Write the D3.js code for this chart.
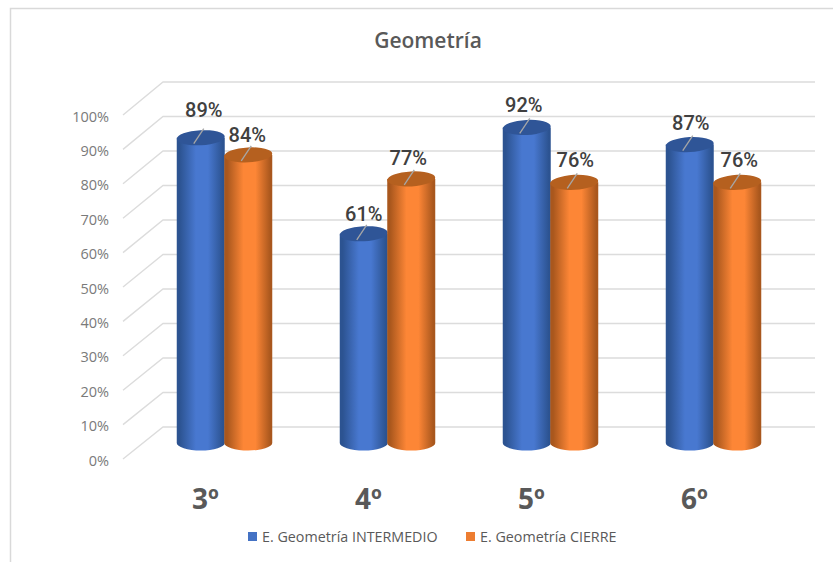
<!DOCTYPE html>
<html><head><meta charset="utf-8">
<script src="https://cdn.jsdelivr.net/npm/d3@7"></script>
<style>html,body{margin:0;padding:0;background:#fff}svg{display:block}text{font-family:"Open Sans",sans-serif}</style>
</head><body><div id="c"></div>
<script>
const categories = ["3º","4º","5º","6º"];
const seriesNames = ["E. Geometría INTERMEDIO","E. Geometría CIERRE"];
const intermedio = [89,61,92,87];
const cierre = [84,77,76,76];
const ticks = [0,10,20,30,40,50,60,70,80,90,100];

const W=833,H=562;
const svg=d3.select("#c").append("svg").attr("width",W).attr("height",H);
const defs=svg.append("defs");
const palettes=[
 {id:"gBlue",edge:"#2c5391",mid:"#4878d0",top:"#2f5597",legend:"#4472c4"},
 {id:"gOrange",edge:"#a9571d",mid:"#fd8636",top:"#b5601f",legend:"#ed7d31"}];
palettes.forEach(p=>{
 const g=defs.append("linearGradient").attr("id",p.id).attr("x1",0).attr("x2",1).attr("y1",0).attr("y2",0);
 [[0,p.edge],[.06,p.edge],[.4,p.mid],[.65,p.mid],[.96,p.edge],[1,p.edge]].forEach(s=>g.append("stop").attr("offset",s[0]).attr("stop-color",s[1]));
});

// frame
svg.append("path").attr("d",`M10.5 562V8.5H833`).attr("fill","none").attr("stroke","#d9d9d9").attr("stroke-width",1.5);

// scales
const yFront=d3.scaleLinear().domain([0,100]).range([459,115]);
const yBack=d3.scaleLinear().domain([0,100]).range([427,82]);
const yBar=d3.scaleLinear().domain([0,100]).range([443,100]);
const x0=d3.scaleBand().domain(categories).range([143,795]).paddingInner(0).paddingOuter(0);
const x1=d3.scaleBand().domain([0,1]).range([x0.bandwidth()/2-47.5,x0.bandwidth()/2+47.5]);

// wall grid
const grid=svg.append("g").attr("fill","none").attr("stroke","#dcdcdc").attr("stroke-width",1.4);
ticks.forEach(t=>{
 grid.append("path").attr("d",`M123 ${yFront(t)}L163 ${yBack(t)}H815`);
});

// value axis
const ax=svg.append("g").attr("transform","translate(113,1.5)")
 .call(d3.axisLeft(yFront).tickValues(ticks).tickSize(0).tickPadding(4).tickFormat(d=>d+"%"));
ax.select(".domain").remove();
ax.selectAll("text").attr("fill","#7a7a7a").style("font-size","14.5px").style("font-family",'"Open Sans",sans-serif');

// category axis
const cx=svg.append("g").attr("transform","translate(0,489)")
 .call(d3.axisBottom(x0).tickSize(0).tickPadding(0));
cx.select(".domain").remove();
cx.selectAll("text").attr("fill","#595959").attr("dx",-19).style("font-size","28px").style("font-weight",700).style("font-family",'"Open Sans",sans-serif');

const rx=24,ry=7.5;
const series=[intermedio,cierre];
const labelShift=[[[3,-27],[0,-19],[-3,-21],[1,-21]],[[-1,-19],[-3,-20],[1,-21],[2,-21]]];
categories.forEach((c,i)=>{
 series.forEach((vals,s)=>{
  const p=palettes[s];
  const cxm=x0(c)+x1(s)+x1.bandwidth()/2;
  const b=yBar(0),t=yBar(vals[i]);
  const g=svg.append("g");
  g.append("path")
   .attr("d",`M${cxm-rx} ${t}V${b}A${rx} ${ry} 0 0 0 ${cxm+rx} ${b}V${t}Z`)
   .attr("fill",`url(#${p.id})`);
  g.append("ellipse").attr("cx",cxm).attr("cy",t).attr("rx",rx).attr("ry",ry)
   .attr("transform",`rotate(-3 ${cxm} ${t})`).attr("fill",p.top);
  g.append("line").attr("x1",cxm-7).attr("y1",t+6).attr("x2",cxm+3).attr("y2",t-9)
   .attr("stroke","#a6a6a6").attr("stroke-width",1.3);
  const sh=labelShift[s][i];
  g.append("text").attr("x",cxm+sh[0]).attr("y",t+sh[1]+6).attr("text-anchor","middle")
   .attr("fill","#404040").style("font-family","Roboto,sans-serif").style("font-size","20px").style("font-weight",500).text(vals[i]+"%");
 });
});

// title
svg.append("text").attr("x",428).attr("y",48).attr("text-anchor","middle")
 .attr("fill","#595959").style("font-size","21px").style("font-weight",600).text("Geometría");

// legend
const lx=[248,466];
seriesNames.forEach((n,i)=>{
 svg.append("rect").attr("x",lx[i]).attr("y",532).attr("width",9).attr("height",9).attr("fill",palettes[i].legend);
 svg.append("text").attr("x",lx[i]+14).attr("y",541.5).attr("fill","#595959").style("font-size","14.3px").text(n);
});
</script></body></html>
